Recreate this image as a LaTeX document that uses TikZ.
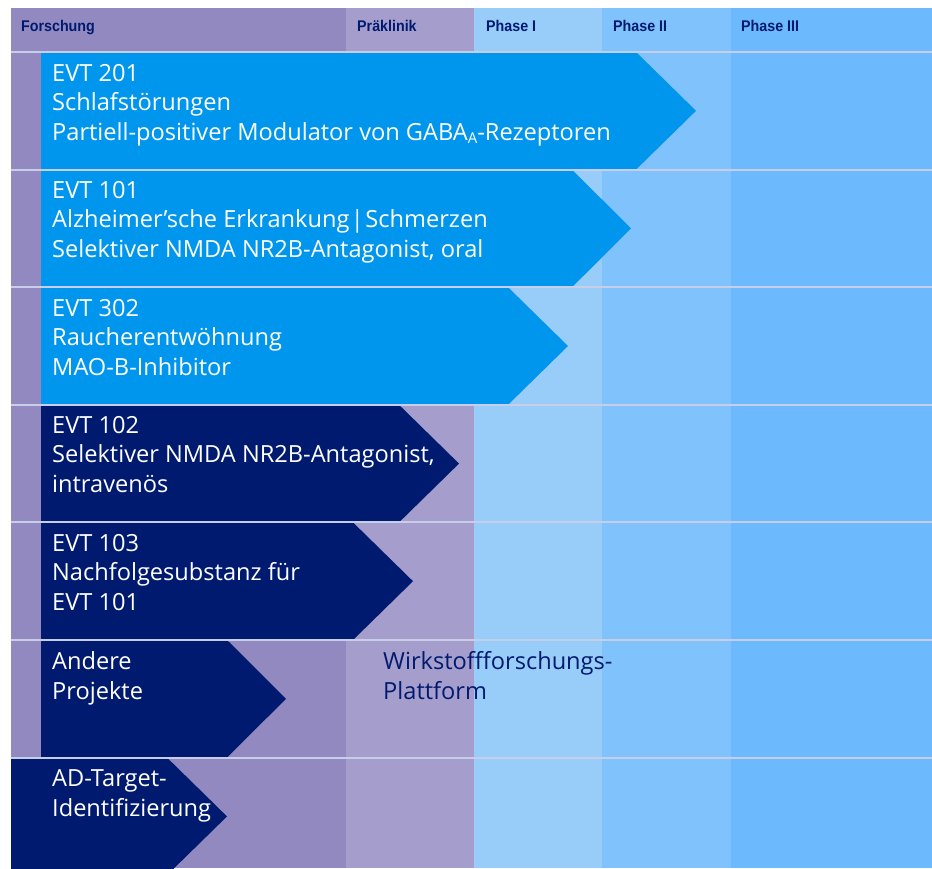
\documentclass[tikz,border=0pt]{standalone}
\usepackage{fontspec}
\setmainfont{Open Sans}
\newfontfamily\hdrfont[FakeStretch=0.92]{Liberation Sans}
\definecolor{cForsch}{RGB}{145,137,192}
\definecolor{cPrak}{RGB}{165,158,204}
\definecolor{cPhI}{RGB}{151,205,248}
\definecolor{cPhII}{RGB}{128,194,252}
\definecolor{cPhIII}{RGB}{108,186,253}
\definecolor{cSep}{RGB}{200,206,232}
\definecolor{cLight}{RGB}{0,150,237}
\definecolor{cNavy}{RGB}{0,26,112}
\tikzset{
  hdr/.style={anchor=base west,inner sep=0pt,text=cNavy,font=\hdrfont\bfseries\fontsize{15.5}{17}\selectfont},
  lbl/.style={anchor=base west,inner sep=0pt,align=left,text=white,font=\fontsize{23.6}{29.3}\selectfont},
  plat/.style={lbl,text=cNavy},
  seprule/.style={draw=cSep,line width=2pt},
}
\newcommand{\subA}{\raisebox{-0.3ex}{\fontsize{15}{15}\selectfont A}}
\begin{document}
\begin{tikzpicture}[x=1pt,y=-1pt]
\useasboundingbox (0,0) rectangle (932,868);
\fill[white] (0,0) rectangle (932,868);
\begin{scope}
\clip (0,0) rectangle (932,868);
% columns
\fill[cForsch] (11,8) rectangle (346,868);
\fill[cPrak] (346,8) rectangle (474,868);
\fill[cPhI] (474,8) rectangle (602,868);
\fill[cPhII] (602,8) rectangle (731,868);
\fill[cPhIII] (731,8) rectangle (932,868);
% arrows
\fill[cLight] (41,52) -- (636,52) -- (696,110.8) -- (636,169.6) -- (41,169.6) -- cycle;
\fill[cLight] (41,169.6) -- (572,169.6) -- (631,228.4) -- (572,287.2) -- (41,287.2) -- cycle;
\fill[cLight] (41,287.2) -- (508,287.2) -- (568,346) -- (508,404.8) -- (41,404.8) -- cycle;
\fill[cNavy] (41,404.8) -- (399,404.8) -- (459,463.6) -- (399,522.4) -- (41,522.4) -- cycle;
\fill[cNavy] (41,522.4) -- (353,522.4) -- (413,581.2) -- (353,640) -- (41,640) -- cycle;
\fill[cNavy] (41,640) -- (227,640) -- (286,698.8) -- (227,757.6) -- (41,757.6) -- cycle;
\fill[cNavy] (11,757.6) -- (167,757.6) -- (227,816.4) -- (167,875.2) -- (11,875.2) -- cycle;
% separators
\foreach \yy in {52,169.6,287.2,404.8,522.4,640,757.6}
  \draw[seprule] (11,\yy) -- (932,\yy);
\end{scope}
% header
\node[hdr] (hForsch) at (21,31) {Forschung};
\node[hdr] (hPrak) at (357,31) {Präklinik};
\node[hdr] (hPhI) at (486,31) {Phase I};
\node[hdr] (hPhII) at (613,31) {Phase II};
\node[hdr] (hPhIII) at (741,31) {Phase III};
% labels (anchored at baseline of last line)
\node[lbl] (evt201) at (52,140) {EVT 201\\Schlafstörungen\\Partiell-positiver Modulator von GABA\subA-Rezeptoren};
\node[lbl] (evt101) at (52,257) {EVT 101\\Alzheimer’sche Erkrankung\kern1.5pt|\kern1.5pt Schmerzen\\Selektiver NMDA NR2B-Antagonist, oral};
\node[lbl] (evt302) at (52,375) {EVT 302\\Raucherentwöhnung\\MAO-B-Inhibitor};
\node[lbl] (evt102) at (52,492) {EVT 102\\Selektiver NMDA NR2B-Antagonist,\\intravenös};
\node[lbl] (evt103) at (52,610) {EVT 103\\Nachfolgesubstanz für\\EVT 101};
\node[lbl] (andere) at (52,699) {Andere\\Projekte};
\node[plat] (platt) at (383,699) {Wirkstoffforschungs-\\Plattform};
\node[lbl] (adtarget) at (52,816) {AD-Target-\\Identifizierung};
\end{tikzpicture}
\end{document}
